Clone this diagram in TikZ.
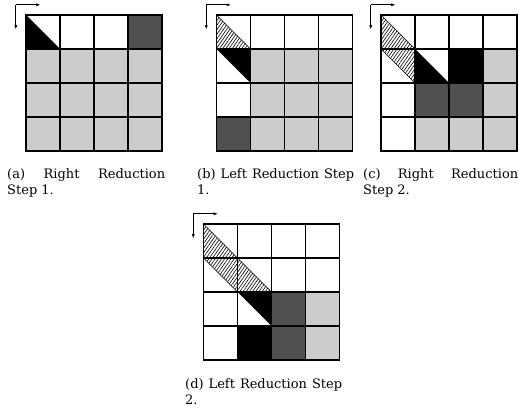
\documentclass[tikz,border=0pt]{standalone}
\usepackage{fontspec}
\setmainfont{DejaVu Serif}
\usetikzlibrary{arrows.meta,patterns.meta}
\definecolor{lgray}{HTML}{CCCCCC}
\definecolor{dgray}{HTML}{505050}
\tikzset{
  lg/.style={fill=lgray},
  dg/.style={fill=dgray},
  bk/.style={fill=black},
  hatch/.style={pattern={Lines[angle=55,distance=2.6pt,line width=0.6pt]}, draw=black, line width=0.6pt},
  gridline/.style={line width=1.2pt},
  frame/.style={line width=1.6pt},
  axisarrow/.style={line width=0.8pt, -{Latex[length=4.5pt,width=3pt]}},
  captxt/.style={anchor=base west, inner sep=0pt, font=\fontsize{13}{16}\selectfont},
}
\newcommand\cellsq[3]{\fill[#1] (#2,#3) rectangle ++(1,1);}
\newcommand\lltri[3]{\fill[#1] (#2,#3) -- ++(0,1) -- ++(1,0) -- cycle;}
\newcommand\urtri[3]{\fill[#1] (#2,#3) -- ++(1,0) -- ++(0,1) -- cycle;}
\newcommand\gridframe{%
  \foreach \i in {1,2,3}{\draw[gridline] (\i,0) -- (\i,4); \draw[gridline] (0,\i) -- (4,\i);}
  \draw[frame] (0,0) rectangle (4,4);}
\newcommand\axes[1]{%
  \coordinate (#1-o) at (-0.3,-0.3);
  \coordinate (#1-h) at (0.43,-0.3);
  \coordinate (#1-v) at (-0.3,0.43);
  \draw[axisarrow] (#1-o) -- (#1-h);
  \draw[axisarrow] (#1-o) -- (#1-v);}
\begin{document}
\begin{tikzpicture}[x=1pt,y=-1pt]
\useasboundingbox[fill=white] (0,0) rectangle (519,412);
% (a)
\begin{scope}[xshift=26pt, yshift=-15pt, x=34pt, y=-34pt]
  \lltri{bk}{0}{0}
  \cellsq{dg}{3}{0}
  \fill[lg] (0,1) rectangle (4,4);
  \gridframe
  \axes{a}
\end{scope}
% (b)
\begin{scope}[xshift=216.5pt, yshift=-15pt, x=34pt, y=-34pt]
  \lltri{hatch}{0}{0}
  \urtri{bk}{0}{1}
  \fill[lg] (1,1) rectangle (4,4);
  \cellsq{dg}{0}{3}
  \gridframe
  \axes{b}
\end{scope}
% (c)
\begin{scope}[xshift=381pt, yshift=-15pt, x=34pt, y=-34pt]
  \lltri{hatch}{0}{0}
  \urtri{hatch}{0}{1}
  \lltri{bk}{1}{1}
  \cellsq{bk}{2}{1}
  \cellsq{lg}{3}{1}
  \cellsq{dg}{1}{2}
  \cellsq{dg}{2}{2}
  \cellsq{lg}{3}{2}
  \fill[lg] (1,3) rectangle (4,4);
  \gridframe
  \axes{c}
\end{scope}
% (d)
\begin{scope}[xshift=203.5pt, yshift=-224pt, x=34pt, y=-34pt]
  \lltri{hatch}{0}{0}
  \urtri{hatch}{0}{1}
  \lltri{hatch}{1}{1}
  \urtri{bk}{1}{2}
  \cellsq{dg}{2}{2}
  \cellsq{lg}{3}{2}
  \cellsq{bk}{1}{3}
  \cellsq{dg}{2}{3}
  \cellsq{lg}{3}{3}
  \gridframe
  \axes{d}
\end{scope}
% captions
\node[captxt] (capa1) at (7,178) {\makebox[158pt][s]{(a) Right Reduction}};
\node[captxt] (capa2) at (7,194) {Step 1.};
\node[captxt] (capb1) at (197,178) {\makebox[157pt][s]{(b) Left Reduction Step}};
\node[captxt] (capb2) at (197,194) {1.};
\node[captxt] (capc1) at (363,178) {\makebox[155pt][s]{(c) Right Reduction}};
\node[captxt] (capc2) at (363,194) {Step 2.};
\node[captxt] (capd1) at (185,388) {\makebox[157pt][s]{(d) Left Reduction Step}};
\node[captxt] (capd2) at (185,404) {2.};
\end{tikzpicture}
\end{document}
